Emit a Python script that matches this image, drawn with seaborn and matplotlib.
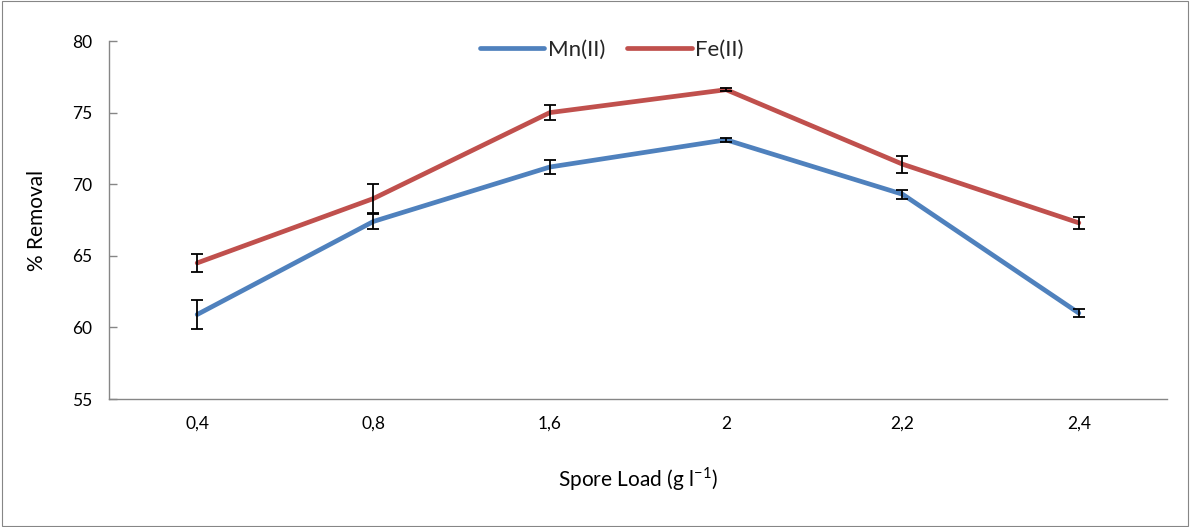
import matplotlib
matplotlib.use("Agg")
import matplotlib.pyplot as plt
import seaborn as sns
import pandas as pd
import numpy as np

categories = ["0,4", "0,8", "1,6", "2", "2,2", "2,4"]
mn_values = [60.9, 67.4, 71.2, 73.1, 69.3, 61.0]
mn_errors = [1.0, 0.5, 0.5, 0.15, 0.3, 0.3]
fe_values = [64.5, 69.0, 75.0, 76.6, 71.4, 67.3]
fe_errors = [0.65, 1.0, 0.55, 0.1, 0.6, 0.4]
series_names = ["Mn(II)", "Fe(II)"]
colors = ["#4F81BD", "#C0504D"]

sns.set_theme(style="white")
plt.rcParams['font.family'] = ['Lato', 'DejaVu Sans']
plt.rcParams['mathtext.fontset'] = 'custom'
plt.rcParams['mathtext.rm'] = 'Lato'

df = pd.DataFrame({
    "x": list(range(len(categories))) * 2,
    "value": mn_values + fe_values,
    "series": [series_names[0]] * len(categories) + [series_names[1]] * len(categories),
})

fig = plt.figure(figsize=(11.9, 5.27), dpi=100)
ax = fig.add_axes([109/1190, 1 - 399/527, (1167 - 109)/1190, (399 - 41)/527])

sns.lineplot(data=df, x="x", y="value", hue="series", palette=colors,
             linewidth=3.4, ax=ax, legend=True)

xs = np.arange(len(categories))
for vals, errs in [(mn_values, mn_errors), (fe_values, fe_errors)]:
    ax.errorbar(xs, vals, yerr=errs, fmt="none", ecolor="black",
                elinewidth=1.3, capsize=4.5, capthick=1.3, zorder=5)

ax.set_xlim(-0.5, len(categories) - 0.5)
ax.set_ylim(55, 80)
ax.set_yticks([55, 60, 65, 70, 75, 80])
ax.set_xticks(xs)
ax.set_xticklabels(categories)
ax.set_xticks(np.arange(-0.5, len(categories), 1.0), minor=True)
ax.tick_params(axis="x", which="major", length=0, pad=12, labelsize=12.5, labelcolor="black")
ax.tick_params(axis="x", which="minor", length=6, width=1.0, color="#868686", direction="in")
ax.tick_params(axis="y", which="major", length=6, width=1.0, color="#868686",
               direction="in", labelsize=12.5, labelcolor="black", left=True, pad=12)

for side in ["top", "right"]:
    ax.spines[side].set_visible(False)
for side in ["left", "bottom"]:
    ax.spines[side].set_color("#868686")
    ax.spines[side].set_linewidth(1.0)

ax.set_xlabel("Spore Load (g l$^{\\mathrm{-1}}$)", fontsize=15, color="black", labelpad=24)
ax.set_ylabel("% Removal", fontsize=15, color="black", labelpad=18)

handles, labels = ax.get_legend_handles_labels()
leg = ax.legend(handles, labels, loc="upper center", bbox_to_anchor=(0.475, 1.06),
                ncol=2, frameon=False, fontsize=16, handlelength=2.9,
                columnspacing=1.0, handletextpad=0.15)
for line in leg.get_lines():
    line.set_linewidth(3.4)

fig.patches.append(plt.Rectangle((0.002, 0.002), 0.996, 0.996, transform=fig.transFigure,
                                 fill=False, edgecolor="#868686", linewidth=0.8))

fig.savefig("out.png", dpi=100)
